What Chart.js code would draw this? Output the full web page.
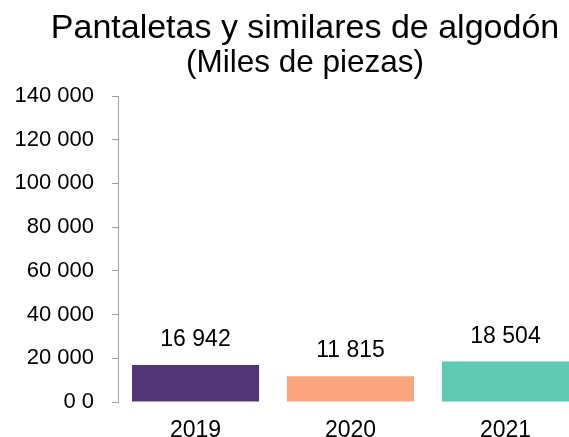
<!DOCTYPE html>
<html>
<head>
<meta charset="utf-8">
<script src="https://cdn.jsdelivr.net/npm/chart.js@4"></script>
<style>
  html, body { margin: 0; padding: 0; overflow: hidden; background: #fff; }
  #wrap { position: relative; width: 600px; height: 450px; font-family: 'Liberation Sans', Arial, sans-serif; }
  #chart { position: absolute; left: 0; top: 0; }
  .head { position: absolute; left: 5px; width: 600px; text-align: center; color: #000; white-space: nowrap; }
  #title { top: 6px; font-size: 34px; line-height: 40.8px; }
  #subtitle { top: 43px; font-size: 31.5px; line-height: 37.8px; }
</style>
</head>
<body>
<div id="wrap">
  <canvas id="chart" width="600" height="450"></canvas>
  <div class="head" id="title">Pantaletas y similares de algodón</div>
  <div class="head" id="subtitle">(Miles de piezas)</div>
</div>
<script>
// Chart data
const years = ["2019", "2020", "2021"];
const pieces = [16942, 11815, 18504];
const valueLabels = ["16 942", "11 815", "18 504"];
const yTickLabels = ["0 0", "20 000", "40 000", "60 000", "80 000", "100 000", "120 000", "140 000"];
const barColors = ["#523778", "#FBA57D", "#5DCAB1"];

const FONT = "'Liberation Sans', Arial, sans-serif";

// draws the value above each bar
const valueLabelPlugin = {
  id: "valueLabels",
  afterDatasetsDraw(chart) {
    const { ctx } = chart;
    const meta = chart.getDatasetMeta(0);
    ctx.save();
    ctx.font = `23px ${FONT}`;
    ctx.fillStyle = "#000";
    ctx.textAlign = "center";
    ctx.textBaseline = "alphabetic";
    meta.data.forEach((bar, i) => {
      ctx.fillText(valueLabels[i], bar.x, bar.y - 19);
    });
    ctx.restore();
  },
};

new Chart(document.getElementById("chart"), {
  type: "bar",
  data: {
    labels: years,
    datasets: [
      {
        data: pieces,
        backgroundColor: barColors,
        barPercentage: 0.82,
        categoryPercentage: 1,
      },
    ],
  },
  options: {
    responsive: false,
    animation: false,
    layout: { padding: { left: 0, right: 17, top: 96, bottom: 0 } },
    plugins: {
      legend: { display: false },
      tooltip: { enabled: false },
    },
    scales: {
      x: {
        grid: { display: false, drawTicks: false },
        border: { display: false },
        ticks: {
          color: "#000",
          font: { family: FONT, size: 23 },
          padding: 15,
        },
        afterFit(scale) {
          scale.height = 48;
        },
      },
      y: {
        min: 0,
        max: 140000,
        grid: { display: true, drawOnChartArea: false, tickLength: 6, color: "#A0A0A0" },
        border: { display: true, color: "#A0A0A0", width: 1 },
        ticks: {
          stepSize: 20000,
          color: "#000",
          font: { family: FONT, size: 22 },
          padding: 18,
          callback: (value, index) => yTickLabels[index],
        },
        afterFit(scale) {
          scale.width = 118;
        },
      },
    },
  },
  plugins: [valueLabelPlugin],
});
</script>
</body>
</html>
